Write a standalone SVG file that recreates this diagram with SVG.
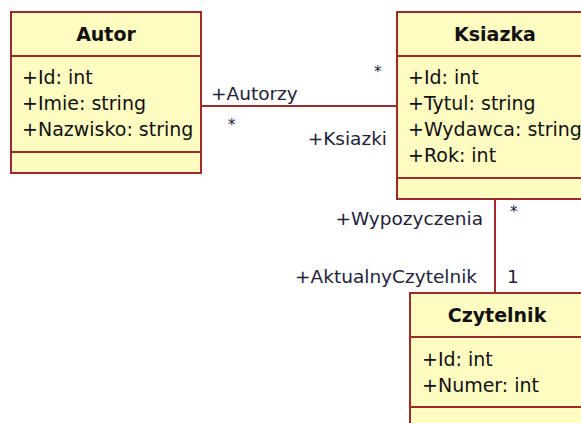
<svg xmlns="http://www.w3.org/2000/svg" width="581" height="423" viewBox="0 0 581 423">
  <style>
    .box { fill: #FFFCC2; stroke: #9E2A2A; stroke-width: 2; }
    .sep { stroke: #9E2A2A; stroke-width: 2; }
    .conn { stroke: #9E2A2A; stroke-width: 2; fill: none; }
    .title { font-family: "DejaVu Sans", Verdana, sans-serif; font-size: 19px; font-weight: bold; fill: #111; text-anchor: middle; }
    .attr { font-family: "DejaVu Sans", Verdana, sans-serif; font-size: 19px; fill: #111; }
    .lbl { font-family: "DejaVu Sans", Verdana, sans-serif; font-size: 18.5px; fill: #22223a; }
    .mult { font-family: "DejaVu Sans", Verdana, sans-serif; font-size: 15px; fill: #22223a; }
  </style>
  <rect width="581" height="423" fill="#ffffff"/>

  <g id="connectors">
    <!-- Autor - Ksiazka association -->
    <line class="conn" x1="201" y1="106" x2="397" y2="106"/>
    <text class="lbl" x="211" y="100">+Autorzy</text>
    <text class="mult" x="374" y="77">*</text>
    <text class="mult" x="228" y="130">*</text>
    <text class="lbl" x="387" y="145" text-anchor="end">+Ksiazki</text>
    <!-- Ksiazka - Czytelnik association -->
    <line class="conn" x1="495" y1="199" x2="495" y2="293"/>
    <text class="lbl" x="483" y="225" text-anchor="end">+Wypozyczenia</text>
    <text class="mult" x="510" y="217">*</text>
    <text class="lbl" x="477" y="283" text-anchor="end">+AktualnyCzytelnik</text>
    <text class="lbl" x="507" y="283">1</text>
  </g>

  <g id="autor">
    <rect class="box" x="11" y="12" width="190" height="161"/>
    <line class="sep" x1="11" y1="56" x2="201" y2="56"/>
    <line class="sep" x1="11" y1="152" x2="201" y2="152"/>
    <text class="title" x="106" y="41">Autor</text>
    <text class="attr" x="22" y="84">+Id: int</text>
    <text class="attr" x="22" y="110">+Imie: string</text>
    <text class="attr" x="22" y="136">+Nazwisko: string</text>
  </g>

  <g id="ksiazka">
    <rect class="box" x="397" y="12" width="198" height="187"/>
    <line class="sep" x1="397" y1="56" x2="595" y2="56"/>
    <line class="sep" x1="397" y1="178" x2="595" y2="178"/>
    <text class="title" x="495" y="41">Ksiazka</text>
    <text class="attr" x="408" y="84">+Id: int</text>
    <text class="attr" x="408" y="110">+Tytul: string</text>
    <text class="attr" x="408" y="136">+Wydawca: string</text>
    <text class="attr" x="408" y="162">+Rok: int</text>
  </g>

  <g id="czytelnik">
    <rect class="box" x="410" y="293" width="186" height="150"/>
    <line class="sep" x1="410" y1="337" x2="596" y2="337"/>
    <line class="sep" x1="410" y1="407" x2="596" y2="407"/>
    <text class="title" x="497" y="322">Czytelnik</text>
    <text class="attr" x="422" y="366">+Id: int</text>
    <text class="attr" x="422" y="392">+Numer: int</text>
  </g>
</svg>
